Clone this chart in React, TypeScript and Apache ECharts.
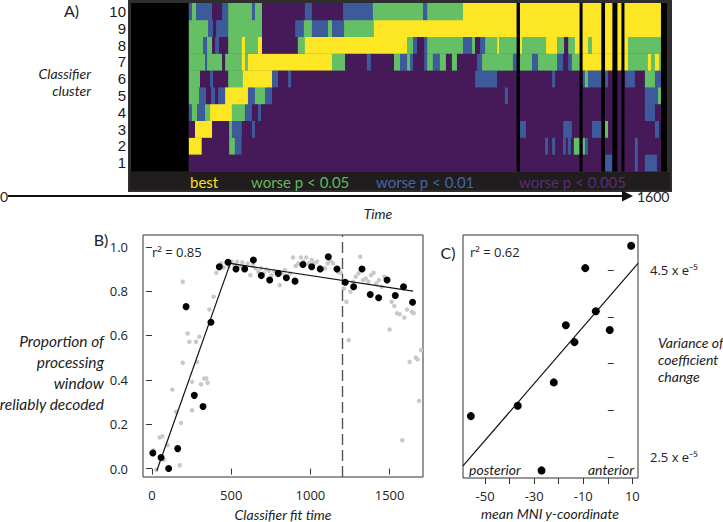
import React, { useEffect, useRef } from 'react';
import * as echarts from 'echarts';

// ---------- Panel A data ----------
const clusterLabels = ['1', '2', '3', '4', '5', '6', '7', '8', '9', '10'];
const legendLabels = ['best', 'worse p < 0.05', 'worse p < 0.01', 'worse p < 0.005'];
// segments: [start ms, end ms, level]  Y best, G p<0.05, B p<0.01, P p<0.005
const row1 = [[172, 1415, 'P'], [1415, 1436, 'B'], [1436, 1504, 'P'], [1504, 1513, 'B'], [1513, 1534, 'P'], [1534, 1570, 'B'], [1570, 1582, 'P']];
const row2 = [[172, 211, 'Y'], [211, 293, 'P'], [293, 310, 'G'], [310, 330, 'B'], [330, 1236, 'P'], [1236, 1245, 'B'], [1245, 1257, 'P'], [1257, 1266, 'B'], [1266, 1290, 'P'], [1290, 1298, 'B'], [1298, 1304, 'P'], [1304, 1313, 'B'], [1313, 1322, 'P'], [1322, 1339, 'G'], [1339, 1348, 'P'], [1348, 1355, 'G'], [1355, 1364, 'B'], [1364, 1504, 'P'], [1504, 1513, 'B'], [1513, 1582, 'P']];
const row3 = [[172, 191, 'P'], [191, 242, 'Y'], [242, 293, 'P'], [293, 301, 'G'], [301, 331, 'B'], [331, 361, 'P'], [361, 370, 'B'], [370, 1161, 'P'], [1161, 1179, 'B'], [1179, 1290, 'P'], [1290, 1316, 'B'], [1316, 1376, 'P'], [1376, 1406, 'B'], [1406, 1415, 'P'], [1415, 1424, 'G'], [1424, 1564, 'P'], [1564, 1576, 'B'], [1576, 1582, 'P']];
const row4 = [[172, 182, 'B'], [182, 197, 'G'], [197, 221, 'B'], [221, 236, 'G'], [236, 301, 'Y'], [301, 340, 'G'], [340, 361, 'B'], [361, 379, 'P'], [379, 388, 'B'], [388, 1534, 'P'], [1534, 1564, 'B'], [1564, 1582, 'P']];
const row5 = [[172, 203, 'G'], [203, 224, 'B'], [224, 239, 'P'], [239, 251, 'B'], [251, 260, 'P'], [260, 281, 'B'], [281, 349, 'Y'], [349, 370, 'B'], [370, 400, 'G'], [400, 421, 'B'], [421, 1116, 'P'], [1116, 1125, 'B'], [1125, 1534, 'P'], [1534, 1573, 'B'], [1573, 1582, 'G']];
const row6 = [[172, 206, 'G'], [206, 236, 'P'], [236, 245, 'B'], [245, 290, 'P'], [290, 334, 'G'], [334, 421, 'Y'], [421, 439, 'B'], [439, 469, 'P'], [469, 478, 'B'], [478, 1027, 'P'], [1027, 1093, 'B'], [1093, 1257, 'P'], [1257, 1266, 'B'], [1266, 1348, 'P'], [1348, 1355, 'B'], [1355, 1364, 'G'], [1364, 1424, 'B'], [1424, 1475, 'P'], [1475, 1504, 'B'], [1504, 1534, 'P'], [1534, 1564, 'G'], [1564, 1582, 'B']];
const row7 = [[172, 221, 'G'], [221, 227, 'B'], [227, 272, 'G'], [272, 281, 'P'], [281, 331, 'G'], [331, 340, 'Y'], [340, 349, 'G'], [349, 600, 'Y'], [600, 639, 'G'], [639, 704, 'P'], [704, 716, 'B'], [716, 785, 'P'], [785, 803, 'G'], [803, 824, 'B'], [824, 833, 'G'], [833, 842, 'B'], [842, 875, 'P'], [875, 884, 'B'], [884, 901, 'G'], [901, 922, 'B'], [922, 940, 'G'], [940, 958, 'P'], [958, 973, 'G'], [973, 1033, 'P'], [1033, 1048, 'B'], [1048, 1140, 'G'], [1140, 1161, 'B'], [1161, 1197, 'G'], [1197, 1215, 'B'], [1215, 1272, 'G'], [1272, 1290, 'B'], [1290, 1305, 'P'], [1305, 1316, 'B'], [1316, 1339, 'G'], [1339, 1484, 'Y'], [1484, 1543, 'G'], [1543, 1552, 'Y'], [1552, 1564, 'G'], [1564, 1576, 'Y'], [1576, 1582, 'G']];
const row8 = [[172, 215, 'G'], [215, 227, 'B'], [227, 242, 'G'], [242, 251, 'P'], [251, 263, 'B'], [263, 290, 'P'], [290, 331, 'G'], [331, 340, 'Y'], [340, 379, 'G'], [379, 391, 'Y'], [391, 498, 'P'], [498, 519, 'G'], [519, 824, 'Y'], [824, 842, 'G'], [842, 854, 'B'], [854, 875, 'P'], [875, 884, 'B'], [884, 991, 'G'], [991, 1018, 'B'], [1018, 1027, 'G'], [1027, 1042, 'P'], [1042, 1057, 'B'], [1057, 1093, 'G'], [1093, 1099, 'Y'], [1099, 1161, 'G'], [1161, 1167, 'Y'], [1167, 1239, 'G'], [1239, 1272, 'Y'], [1272, 1293, 'G'], [1293, 1305, 'P'], [1305, 1325, 'G'], [1325, 1364, 'Y'], [1364, 1376, 'G'], [1376, 1484, 'Y'], [1484, 1582, 'G']];
const row9 = [[172, 230, 'G'], [230, 245, 'B'], [245, 254, 'P'], [254, 290, 'B'], [290, 391, 'G'], [391, 490, 'P'], [490, 516, 'B'], [516, 540, 'G'], [540, 588, 'B'], [588, 600, 'G'], [600, 636, 'B'], [636, 725, 'G'], [725, 1582, 'Y']];
const row10 = [[172, 182, 'B'], [182, 194, 'G'], [194, 242, 'B'], [242, 272, 'P'], [272, 290, 'B'], [290, 361, 'G'], [361, 370, 'B'], [370, 391, 'G'], [391, 519, 'P'], [519, 540, 'B'], [540, 633, 'P'], [633, 722, 'B'], [722, 872, 'G'], [872, 884, 'B'], [884, 991, 'G'], [991, 1582, 'Y']];
const missingBins = [[0, 172], [1151, 1161], [1339, 1348], [1404, 1415], [1437, 1452], [1464, 1473], [1582, 1600]];

// ---------- Panel B data ----------
const bBlack = [[5, 0.07], [57, 0.05], [105, 0.0], [162, 0.09], [215, 0.73], [267, 0.33], [322, 0.28], [372, 0.66], [425, 0.91], [480, 0.93], [530, 0.90], [585, 0.90], [640, 0.94], [690, 0.87], [743, 0.85], [797, 0.88], [848, 0.86], [903, 0.845], [953, 0.92], [1008, 0.91], [1062, 0.90], [1113, 0.955], [1168, 0.90], [1220, 0.84], [1273, 0.82], [1326, 0.90], [1378, 0.785], [1431, 0.77], [1484, 0.85], [1536, 0.78], [1588, 0.82], [1645, 0.75]];
const bGray = [[10, 0.083], [27, -0.005], [48, 0.14], [65, 0.146], [74, 0.04], [99, 0.105], [128, 0.356], [152, 0.256], [175, 0.015], [183, 0.206], [194, 0.842], [194, 0.477], [225, 0.609], [236, 0.572], [253, 0.391], [253, 0.263], [278, 0.572], [284, 0.481], [299, 0.594], [309, 0.38], [330, 0.406], [343, 0.406], [351, 0.387], [362, 0.717], [389, 0.775], [406, 0.883], [421, 0.903], [436, 0.925], [452, 0.907], [469, 0.928], [486, 0.91], [503, 0.933], [520, 0.918], [537, 0.933], [553, 0.913], [570, 0.93], [587, 0.91], [604, 0.925], [621, 0.872], [638, 0.918], [654, 0.903], [671, 0.887], [688, 0.903], [705, 0.88], [722, 0.898], [739, 0.892], [755, 0.872], [772, 0.892], [789, 0.88], [806, 0.827], [823, 0.88], [840, 0.895], [856, 0.857], [873, 0.88], [890, 0.952], [907, 0.913], [924, 0.925], [941, 0.952], [957, 0.933], [974, 0.952], [991, 0.925], [1008, 0.94], [1025, 0.925], [1042, 0.933], [1058, 0.91], [1075, 0.898], [1092, 0.903], [1109, 0.925], [1126, 0.937], [1143, 0.925], [1160, 0.903], [1176, 0.887], [1193, 0.883], [1210, 0.812], [1227, 0.752], [1242, 0.579], [1252, 0.797], [1269, 0.842], [1286, 0.865], [1303, 0.88], [1315, 0.955], [1332, 0.85], [1349, 0.857], [1366, 0.842], [1383, 0.872], [1399, 0.883], [1416, 0.835], [1433, 0.85], [1450, 0.82], [1467, 0.865], [1484, 0.853], [1500, 0.627], [1513, 0.752], [1530, 0.733], [1547, 0.7], [1564, 0.696], [1580, 0.128], [1593, 0.681], [1610, 0.717], [1627, 0.481], [1641, 0.707], [1652, 0.7], [1665, 0.501], [1677, 0.492], [1686, 0.305], [1698, 0.534]];
const bFit = [[30, -0.01], [494, 0.925], [1648, 0.80]];
const bCutoff = 1200;
const bXTicks = [0, 500, 1000, 1500];
const bYTicks = [0, 0.2, 0.4, 0.6, 0.8, 1.0];

// ---------- Panel C data ----------
const cPoints = [[-55.8, 2.94], [-36.7, 3.05], [-27, 2.36], [-22, 3.30], [-17.1, 3.91], [-13.6, 3.73], [-9.2, 4.52], [-4.9, 4.06], [0.8, 3.86], [9.5, 4.76]];
const cFit = [[-59, 2.408], [12.3, 4.571]];
const cXLabels = [-50, -30, -10, 10];
const cXTicks = [-50, -40, -30, -20, -10, 0, 10];
const cYTicks = [2.5, 3.0, 3.5, 4.0, 4.5];
const cYLabels = [2.5, 4.5];

const levelIndex: Record<string, number> = { Y: 0, G: 1, B: 2, P: 3 };
const levelColors = ['#FDE725', '#64BF65', '#3D5A9A', '#461A59'];
const legendColors = ['#F3E20E', '#5EB95A', '#4465AA', '#5A2A7A'];

const numFont = 'Open Sans';
const itFont = 'Lato';

export default function App() {
  const ref = useRef<HTMLDivElement>(null);
  useEffect(() => {
    if (!ref.current) return;
    const chart = echarts.init(ref.current, undefined, { renderer: 'svg' });
    const rows = [row1, row2, row3, row4, row5, row6, row7, row8, row9, row10];
    const segData = rows.flatMap((row, i) => row.map((s: any) => [s[0], s[1], i, levelIndex[s[2]]]));

    const txt = (text: string, x: number, y: number, opts: any = {}) => ({
      type: 'text', x, y, z: 100,
      style: {
        text, fill: opts.fill || '#222', font: opts.font || `14px ${numFont}`,
        textAlign: opts.align || 'left', textVerticalAlign: 'middle',
      },
    });
    const it = (s: number) => `italic ${s}px ${itFont}`;

    const axisTickStyle = { lineStyle: { color: '#333', width: 1 }, length: 6, inside: false };

    const option: any = {
      animation: false,
      grid: [
        { left: 131, top: 3, width: 536, height: 168, show: false },
        { left: 143, top: 235, width: 280, height: 242, show: true, borderColor: '#333', borderWidth: 1 },
        { left: 463, top: 235, width: 175, height: 243, show: true, borderColor: '#333', borderWidth: 1 },
      ],
      xAxis: [
        { gridIndex: 0, type: 'value', min: 0, max: 1600, show: false },
        {
          gridIndex: 1, type: 'value', min: -57, max: 1711,
          axisLine: { show: false }, splitLine: { show: false },
          axisTick: { ...axisTickStyle, customValues: bXTicks },
          axisLabel: { customValues: bXTicks, margin: 11, fontSize: 13, color: '#222', fontFamily: numFont, formatter: (v: number) => String(v) },
        },
        {
          gridIndex: 2, type: 'value', min: -59, max: 12.3,
          axisLine: { show: false }, splitLine: { show: false },
          axisTick: { ...axisTickStyle, customValues: cXTicks },
          axisLabel: { customValues: cXLabels, margin: 11, fontSize: 13, color: '#222', fontFamily: numFont, formatter: (v: number) => String(v) },
        },
      ],
      yAxis: [
        {
          gridIndex: 0, type: 'category', data: clusterLabels,
          axisLine: { show: false }, axisTick: { show: false }, splitLine: { show: false },
          axisLabel: { interval: 0, margin: 5, fontSize: 15, color: '#1a1a1a', fontFamily: 'Liberation Sans' },
        },
        {
          gridIndex: 1, type: 'value', min: -0.038, max: 1.053,
          axisLine: { show: false }, splitLine: { show: false },
          axisTick: { ...axisTickStyle, customValues: bYTicks },
          axisLabel: { customValues: bYTicks, margin: 15, fontSize: 13, color: '#222', fontFamily: numFont, formatter: (v: number) => v.toFixed(1) },
        },
        {
          gridIndex: 2, type: 'value', position: 'right', min: 2.279, max: 4.874,
          axisLine: { show: false }, splitLine: { show: false },
          axisTick: { ...axisTickStyle, customValues: cYTicks },
          axisLabel: { customValues: cYLabels, margin: 12, fontSize: 13, color: '#222', fontFamily: numFont, formatter: (v: number) => `${v.toFixed(1)} x e⁻⁵` },
        },
      ],
      series: [
        {
          type: 'custom', xAxisIndex: 0, yAxisIndex: 0, data: segData, z: 2,
          encode: { x: [0, 1], y: 2 },
          renderItem: (params: any, api: any) => {
            const r = api.value(2);
            const p0 = api.coord([api.value(0), r]);
            const p1 = api.coord([api.value(1), r]);
            const h = api.size([0, 1])[1];
            return {
              type: 'rect',
              shape: { x: p0[0], y: p0[1] - h / 2, width: p1[0] - p0[0] + 0.4, height: h + 0.4 },
              style: { fill: levelColors[api.value(3)] },
            };
          },
        },
        {
          type: 'custom', xAxisIndex: 0, yAxisIndex: 0, data: missingBins, z: 3,
          encode: { x: [0, 1] },
          renderItem: (params: any, api: any) => {
            const p0 = api.coord([api.value(0), 0]);
            const p1 = api.coord([api.value(1), 0]);
            const cs = params.coordSys;
            return { type: 'rect', shape: { x: p0[0], y: cs.y, width: p1[0] - p0[0], height: cs.height + 0.5 }, style: { fill: '#000' } };
          },
        },
        {
          type: 'scatter', xAxisIndex: 1, yAxisIndex: 1, data: bGray, symbolSize: 4.5,
          itemStyle: { color: '#C9C9C9', opacity: 1 }, z: 3,
        },
        {
          type: 'line', xAxisIndex: 1, yAxisIndex: 1, data: bFit, symbol: 'none',
          lineStyle: { color: '#111', width: 1.2 }, z: 4,
          markLine: {
            silent: true, symbol: 'none', label: { show: false },
            lineStyle: { color: '#555', width: 1.4, type: [11, 5] },
            data: [{ xAxis: bCutoff }],
          },
        },
        {
          type: 'scatter', xAxisIndex: 1, yAxisIndex: 1, data: bBlack, symbolSize: 7,
          itemStyle: { color: '#000', opacity: 1 }, z: 5,
        },
        {
          type: 'line', xAxisIndex: 2, yAxisIndex: 2, data: cFit, symbol: 'none',
          lineStyle: { color: '#111', width: 1.2 }, z: 4,
        },
        {
          type: 'scatter', xAxisIndex: 2, yAxisIndex: 2, data: cPoints, symbolSize: 8,
          itemStyle: { color: '#000', opacity: 1 }, z: 5,
        },
      ],
      graphic: [
        { type: 'rect', z: -10, shape: { x: 128, y: 0, width: 544, height: 192 }, style: { fill: '#2e2e2e' } },
        { type: 'rect', z: -9, shape: { x: 130, y: 172, width: 540, height: 18 }, style: { fill: '#211d1e' } },
        txt('A)', 64, 10, { font: `16px ${itFont}` }),
        txt('Classifier', 91, 73, { align: 'right', font: it(14) }),
        txt('cluster', 91, 90, { align: 'right', font: it(14) }),
        txt(legendLabels[0], 190, 182, { fill: legendColors[0], font: `15px ${itFont}` }),
        txt(legendLabels[1], 251, 182, { fill: legendColors[1], font: `15px ${itFont}` }),
        txt(legendLabels[2], 376, 182, { fill: legendColors[2], font: `15px ${itFont}` }),
        txt(legendLabels[3], 519, 182, { fill: legendColors[3], font: `15px ${itFont}` }),
        { type: 'line', z: 50, shape: { x1: 8, y1: 196, x2: 624, y2: 196 }, style: { stroke: '#111', lineWidth: 2 } },
        { type: 'polygon', z: 50, shape: { points: [[622, 190.5], [633, 196], [622, 201.5]] }, style: { fill: '#111' } },
        txt('0', 0, 196, { font: `14px ${itFont}` }),
        txt('1600', 637, 196, { font: `14px ${itFont}` }),
        txt('Time', 378, 213, { align: 'center', font: it(14) }),
        txt('B)', 101, 239, { align: 'center', font: `16px ${itFont}` }),
        txt('r² = 0.85', 152, 252, { font: `13px ${numFont}` }),
        txt('Proportion of', 104, 341, { align: 'right', font: it(15.5) }),
        txt('processing', 104, 362, { align: 'right', font: it(15.5) }),
        txt('window', 104, 383, { align: 'right', font: it(15.5) }),
        txt('reliably decoded', 104, 404, { align: 'right', font: it(15.5) }),
        txt('Classifier fit time', 283, 514, { align: 'center', font: it(14) }),
        txt('C)', 448, 252, { align: 'center', font: `16px ${itFont}` }),
        txt('r² = 0.62', 470, 252, { font: `13px ${numFont}` }),
        txt('posterior', 469, 469, { font: it(14) }),
        txt('anterior', 634, 469, { align: 'right', font: it(14) }),
        txt('Variance of', 658, 342, { font: it(14) }),
        txt('coefficient', 658, 359, { font: it(14) }),
        txt('change', 658, 376, { font: it(14) }),
        txt('mean MNI y-coordinate', 550, 513, { align: 'center', font: it(14) }),
      ],
    };
    chart.setOption(option);
    return () => chart.dispose();
  }, []);
  return <div ref={ref} style={{ position: 'absolute', left: 0, top: 0, width: 723, height: 522, background: '#fff' }} />;
}
